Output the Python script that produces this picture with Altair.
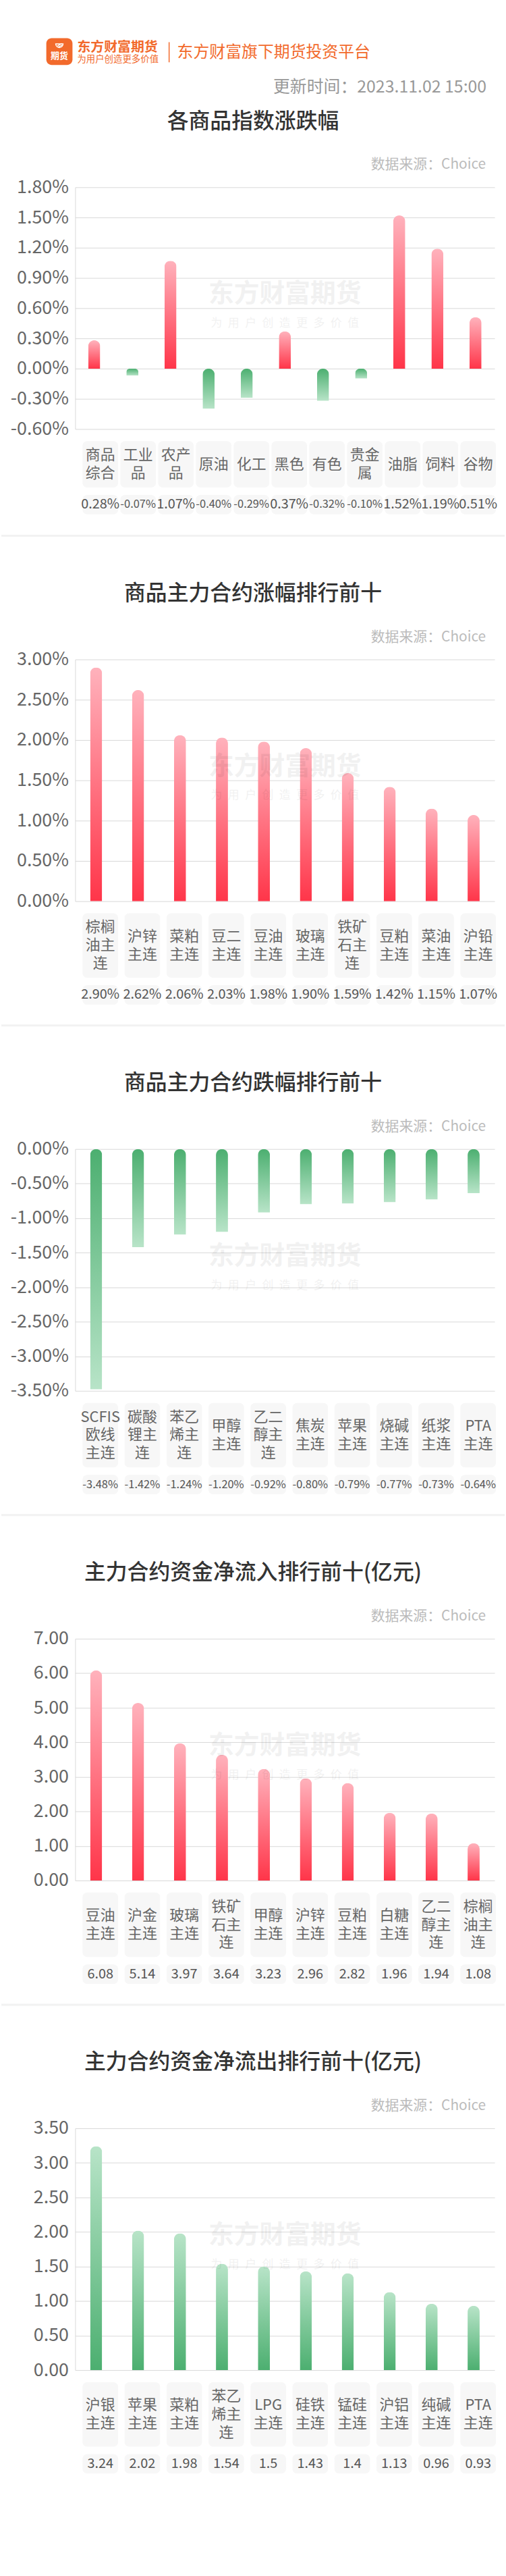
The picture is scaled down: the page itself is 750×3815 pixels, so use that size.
import altair as alt
import pandas as pd

FONT = "Noto Sans CJK SC"

# ---------------- header / static texts ----------------
BRAND = "东方财富期货"
SLOGAN = "为用户创造更多价值"
LOGO_TEXT = "期货"
PLATFORM = "东方财富旗下期货投资平台"
UPDATED = "更新时间：2023.11.02 15:00"
SOURCE = "数据来源：Choice"
WM_MAIN = "东方财富期货"
WM_SUB = "\u2002".join("为用户创造更多价值")

# ---------------- chart 1 ----------------
t1 = "各商品指数涨跌幅"
c1_cats = ["商品\n综合", "工业\n品", "农产\n品", "原油", "化工", "黑色", "有色", "贵金\n属", "油脂", "饲料", "谷物"]
c1_vals = [0.28, -0.07, 1.07, -0.40, -0.29, 0.37, -0.32, -0.10, 1.52, 1.19, 0.51]
c1_ticks = [-0.6, -0.3, 0.0, 0.3, 0.6, 0.9, 1.2, 1.5, 1.8]

# ---------------- chart 2 ----------------
t2 = "商品主力合约涨幅排行前十"
c2_cats = ["棕榈\n油主\n连", "沪锌\n主连", "菜粕\n主连", "豆二\n主连", "豆油\n主连", "玻璃\n主连",
           "铁矿\n石主\n连", "豆粕\n主连", "菜油\n主连", "沪铅\n主连"]
c2_vals = [2.90, 2.62, 2.06, 2.03, 1.98, 1.90, 1.59, 1.42, 1.15, 1.07]
c2_ticks = [0.0, 0.5, 1.0, 1.5, 2.0, 2.5, 3.0]

# ---------------- chart 3 ----------------
t3 = "商品主力合约跌幅排行前十"
c3_cats = ["SCFIS\n欧线\n主连", "碳酸\n锂主\n连", "苯乙\n烯主\n连", "甲醇\n主连", "乙二\n醇主\n连",
           "焦炭\n主连", "苹果\n主连", "烧碱\n主连", "纸浆\n主连", "PTA\n主连"]
c3_vals = [-3.48, -1.42, -1.24, -1.20, -0.92, -0.80, -0.79, -0.77, -0.73, -0.64]
c3_ticks = [-3.5, -3.0, -2.5, -2.0, -1.5, -1.0, -0.5, 0.0]

# ---------------- chart 4 ----------------
t4 = "主力合约资金净流入排行前十(亿元)"
c4_cats = ["豆油\n主连", "沪金\n主连", "玻璃\n主连", "铁矿\n石主\n连", "甲醇\n主连", "沪锌\n主连",
           "豆粕\n主连", "白糖\n主连", "乙二\n醇主\n连", "棕榈\n油主\n连"]
c4_vals = [6.08, 5.14, 3.97, 3.64, 3.23, 2.96, 2.82, 1.96, 1.94, 1.08]
c4_ticks = [0, 1, 2, 3, 4, 5, 6, 7]

# ---------------- chart 5 ----------------
t5 = "主力合约资金净流出排行前十(亿元)"
c5_cats = ["沪银\n主连", "苹果\n主连", "菜粕\n主连", "苯乙\n烯主\n连", "LPG\n主连", "硅铁\n主连",
           "锰硅\n主连", "沪铝\n主连", "纯碱\n主连", "PTA\n主连"]
c5_vals = [3.24, 2.02, 1.98, 1.54, 1.5, 1.43, 1.4, 1.13, 0.96, 0.93]
c5_ticks = [0.0, 0.5, 1.0, 1.5, 2.0, 2.5, 3.0, 3.5]

W, H = 625, 360
ORANGE = "#f26a2c"
LH = 27


def grad(top, bottom):
    return alt.Gradient(
        gradient="linear",
        stops=[alt.GradientStop(color=top, offset=0), alt.GradientStop(color=bottom, offset=1)],
        x1=0, x2=0, y1=0, y2=1,
    )


RED_UP = grad("#ffb2bc", "#ff3549")
GREEN_DOWN = grad("#4caf70", "#b8e4c8")
GREEN_UP = grad("#b8e4c8", "#4caf70")


def one(text):
    return alt.Chart(pd.DataFrame({"t": [text]}))


def dtext(text, x, y, size, color, align="center", weight="normal", opacity=1.0):
    return one(text).mark_text(
        align=align, baseline="middle", fontSize=size, color=color,
        fontWeight=weight, opacity=opacity, font=FONT,
    ).encode(x=alt.value(x), y=alt.value(y), text="t:N")


def header_layers():
    lay = []
    lay.append(one("").mark_rect(color="white").encode(
        x=alt.value(-110), x2=alt.value(640), y=alt.value(-269), y2=alt.value(-265)))
    lay.append(one("").mark_rect(color=ORANGE, cornerRadius=8).encode(
        x=alt.value(-43), x2=alt.value(-4), y=alt.value(-222), y2=alt.value(-182)))
    lay.append(one("").mark_point(
        shape="M -0.9 -0.4 A 0.9 0.9 0 0 0 0.9 -0.4 Z M -0.5 0.1 L 0.6 -0.5 M -0.3 0.4 L 0.7 -0.1",
        filled=False, stroke="white", strokeWidth=1.4, size=150, opacity=1).encode(
        x=alt.value(-23.5), y=alt.value(-211)))
    lay.append(dtext(LOGO_TEXT, -23.5, -195, 13, "white", weight="bold"))
    lay.append(dtext(BRAND, 3, -208, 20, ORANGE, align="left", weight="bold"))
    lay.append(dtext(SLOGAN, 3, -190, 13.5, ORANGE, align="left"))
    lay.append(one("").mark_rule(color=ORANGE, strokeWidth=1.5).encode(
        x=alt.value(140), y=alt.value(-216), y2=alt.value(-186)))
    lay.append(dtext(PLATFORM, 152, -200, 24, ORANGE, align="left"))
    lay.append(dtext(UPDATED, 613, -149, 25, "#999999", align="right"))
    return lay


def fix_minus(expr):
    return "replace(" + expr + ", '\u2212', '-')"


def panel(title, cats, vals, domain, ticks, mode, up_grad, down_grad, first=False):
    n = len(cats)
    lines = max(c.count("\n") + 1 for c in cats)
    bh = LH * lines + 15
    cat_top = H + 18
    val_top = cat_top + bh + 11
    val_h = 29
    pin = (616 - 53 * n) / 563.0

    if mode == "pct":
        lab = fix_minus("format(datum.val, '.2f')") + " + '%'"
        axis_expr = fix_minus("format(datum.value, '.2f')") + " + '%'"
    elif mode == "fix2":
        lab = "format(datum.val, '.2f')"
        axis_expr = "format(datum.value, '.2f')"
    else:
        lab = "toString(datum.val)"
        axis_expr = "format(datum.value, '.2f')"

    df = pd.DataFrame({"cat": cats, "val": vals})
    base = alt.Chart(df).transform_calculate(
        lab=lab,
        fs="length(datum.lab) > 5 ? 16.5 : 20",
        ty="%f - (length(split(datum.cat, '\\n')) - 1) * %f" % (cat_top + bh / 2.0, LH / 2.0),
    )

    xb = alt.X("cat:N", scale=alt.Scale(domain=cats, paddingInner=0, paddingOuter=0), axis=None)
    yb = alt.Y("val:Q", scale=alt.Scale(domain=domain, nice=False),
               axis=alt.Axis(values=ticks, labelExpr=axis_expr, title=None, grid=True,
                             gridColor="#d9d9d9", gridWidth=1, domainColor="#d9d9d9",
                             ticks=False, labelFontSize=27, labelColor="#666666",
                             labelPadding=10, labelFont=FONT))
    bl = []
    if any(v >= 0 for v in vals):
        bl.append(base.transform_filter("datum.val >= 0").mark_bar(
            size=18, cornerRadiusEnd=9, color=up_grad).encode(x=xb, y=yb))
    if any(v < 0 for v in vals):
        bl.append(base.transform_filter("datum.val < 0").mark_bar(
            size=18, cornerRadiusEnd=9, color=down_grad).encode(x=xb, y=yb))
    bars = alt.layer(*bl)

    xs = alt.X("cat:N", scale=alt.Scale(domain=cats, range=[11, 627], paddingInner=pin,
                                        paddingOuter=0), axis=None)
    cat_box = base.mark_bar(color="#f7f7f7", cornerRadius=7).encode(
        x=xs, y=alt.value(cat_top), y2=alt.value(cat_top + bh))
    cat_txt = base.mark_text(lineBreak="\n", fontSize=22, lineHeight=LH, color="#666666",
                             baseline="middle", font=FONT).encode(
        x=xs, y=alt.Y("ty:Q", scale=None, axis=None), text="cat:N")
    val_box = base.mark_bar(color="#f7f7f7", cornerRadius=7).encode(
        x=xs, y=alt.value(val_top), y2=alt.value(val_top + val_h))
    val_txt = base.mark_text(color="#555555", baseline="middle", font=FONT).encode(
        x=xs, y=alt.value(val_top + val_h / 2), text="lab:N",
        size=alt.Size("fs:Q", scale=None, legend=None))
    boxes = alt.layer(cat_box, cat_txt, val_box, val_txt)

    layers = []
    if first:
        layers += header_layers()
    else:
        layers.append(one("").mark_rule(color="#f2f2f2", strokeWidth=3).encode(
            x=alt.value(-110), x2=alt.value(640), y=alt.value(-184)))
    layers.append(dtext(title, 265, -98, 32, "#333333", weight=500))
    layers.append(dtext(SOURCE, 612, -33, 21, "#bbbbbb", align="right"))
    layers.append(bars)
    layers.append(boxes)
    layers.append(dtext(WM_MAIN, W / 2, 160, 38, "#000000", weight="bold", opacity=0.05))
    layers.append(dtext(WM_SUB, W / 2, 203, 17, "#000000", opacity=0.05))
    return alt.layer(*layers).resolve_scale(x="independent", y="independent").properties(
        width=W, height=H)


p1 = panel(t1, c1_cats, c1_vals, [-0.6, 1.8], c1_ticks, "pct", RED_UP, GREEN_DOWN, first=True)
p2 = panel(t2, c2_cats, c2_vals, [0, 3.0], c2_ticks, "pct", RED_UP, GREEN_DOWN)
p3 = panel(t3, c3_cats, c3_vals, [-3.5, 0], c3_ticks, "pct", RED_UP, GREEN_DOWN)
p4 = panel(t4, c4_cats, c4_vals, [0, 7], c4_ticks, "fix2", RED_UP, GREEN_DOWN)
p5 = panel(t5, c5_cats, c5_vals, [0, 3.5], c5_ticks, "raw", GREEN_UP, GREEN_DOWN)

inner = alt.vconcat(p2, p3, p4, p5, spacing=369, bounds="flush")
chart = alt.vconcat(p1, inner, spacing=343, bounds="flush").properties(
    padding=0
).configure(font=FONT, background="white").configure_view(stroke=None)

chart.save("out.html", embed_options={"renderer": "svg", "actions": False})
